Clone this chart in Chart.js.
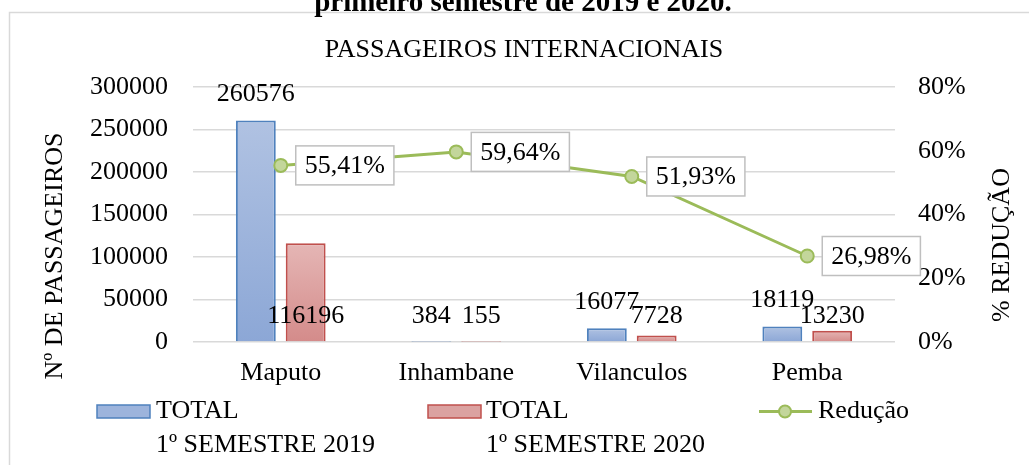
<!DOCTYPE html>
<html lang="pt">
<head>
<meta charset="utf-8">
<title>Passageiros internacionais</title>
<script src="https://cdn.jsdelivr.net/npm/chart.js@4.4.1/dist/chart.umd.min.js"></script>
<style>
  html, body { margin: 0; padding: 0; background: #fff; }
  #wrap { width: 1029px; height: 465px; }
</style>
</head>
<body>
<div id="wrap"><canvas id="chart" width="1029" height="465"></canvas></div>
<script>
/* ===== dados ===== */
const categorias = ['Maputo', 'Inhambane', 'Vilanculos', 'Pemba'];
const total2019  = [260576, 384, 16077, 18119];
const total2020  = [116196, 155, 7728, 13230];
const reducao    = [0.5541, 0.5964, 0.5193, 0.2698];

const serie2019 = ['TOTAL', '1º SEMESTRE 2019'];
const serie2020 = ['TOTAL', '1º SEMESTRE 2020'];
const serieRed  = 'Redução';

const tituloTopo = 'primeiro semestre de 2019 e 2020.';
const titulo     = 'PASSAGEIROS INTERNACIONAIS';
const tituloY    = 'Nº DE PASSAGEIROS';
const tituloY1   = '% REDUÇÃO';

/* ===== estilos ===== */
const FONT = "'Liberation Serif', 'Times New Roman', serif";
const FS = 26;
const AZUL = { top: '#b0c2e2', bottom: '#8ca7d6', border: '#4f81bd', key: '#9db4dc' };
const VERM = { top: '#e5b6b5', bottom: '#d48b8a', border: '#c0504d', key: '#dba2a1' };
const VERDE = { line: '#9bbb59', fill: '#c3d69b' };

Chart.defaults.color = '#000';
Chart.defaults.font.family = FONT;
Chart.defaults.font.size = FS;

const pct = v => (v * 100).toFixed(2).replace('.', ',') + '%';

function gradFor(cores) {
  return (ctx) => {
    const chart = ctx.chart;
    const y = chart.scales.y;
    if (!chart.chartArea || !y || ctx.type !== 'data') return cores.bottom;
    const v = ctx.parsed ? ctx.parsed.y : 0;
    const top = y.getPixelForValue(v);
    const base = y.getPixelForValue(0);
    if (Math.abs(base - top) < 1) return cores.bottom;
    const g = chart.ctx.createLinearGradient(0, top, 0, base);
    g.addColorStop(0, cores.top);
    g.addColorStop(1, cores.bottom);
    return g;
  };
}

/* ===== plugin de decoração (borda, títulos, rótulos, legenda) ===== */
const decor = {
  id: 'decor',
  beforeDraw(chart) {
    const c = chart.ctx;
    c.save();
    c.fillStyle = '#fff';
    c.fillRect(0, 0, chart.width, chart.height);
    c.strokeStyle = '#d9d9d9';
    c.lineWidth = 1.5;
    c.strokeRect(9.5, 12.5, chart.width + 20, chart.height + 20);
    c.restore();
  },
  afterDatasetsDraw(chart) {
    const c = chart.ctx;
    const y = chart.scales.y;
    c.save();
    c.font = `${FS}px ${FONT}`;
    c.fillStyle = '#000';
    c.textAlign = 'center';
    c.textBaseline = 'middle';

    // rótulos das barras (2020 ficam junto à base)
    chart.getDatasetMeta(1).data.forEach((bar, i) => {
      c.fillText(String(total2019[i]), bar.x, y.getPixelForValue(total2019[i]) - 26);
    });
    chart.getDatasetMeta(2).data.forEach((bar, i) => {
      c.fillText(String(total2020[i]), bar.x, y.getPixelForValue(0) - 26);
    });

    // rótulos da linha (caixas)
    c.textAlign = 'left';
    chart.getDatasetMeta(0).data.forEach((pt, i) => {
      const txt = pct(reducao[i]);
      const w = c.measureText(txt).width + 18;
      const h = 39;
      const x0 = pt.x + 15, y0 = pt.y - h / 2;
      c.fillStyle = '#fff';
      c.fillRect(x0, y0, w, h);
      c.strokeStyle = '#bfbfbf';
      c.lineWidth = 1.5;
      c.strokeRect(x0, y0, w, h);
      c.fillStyle = '#000';
      c.fillText(txt, x0 + 9, pt.y + 1);
    });
    c.restore();
  },
  afterDraw(chart) {
    const c = chart.ctx;
    c.save();
    c.fillStyle = '#000';
    c.textBaseline = 'alphabetic';
    c.textAlign = 'center';

    // título do documento (cortado em cima)
    c.font = `bold 29px ${FONT}`;
    c.fillText(tituloTopo, 523, 11);

    // título do gráfico
    c.font = `${FS}px ${FONT}`;
    c.textBaseline = 'middle';
    c.fillText(titulo, 524, 50);

    // títulos dos eixos
    c.save();
    c.translate(55, 256);
    c.rotate(-Math.PI / 2);
    c.fillText(tituloY, 0, 0);
    c.restore();
    c.save();
    c.translate(1002, 245);
    c.rotate(-Math.PI / 2);
    c.fillText(tituloY1, 0, 0);
    c.restore();

    // legenda
    c.textAlign = 'left';
    const ly = 411.5, ly2 = 445;
    const chave = (x, cores) => {
      c.fillStyle = cores.key;
      c.fillRect(x, ly - 6.5, 53, 13);
      c.strokeStyle = cores.border;
      c.lineWidth = 1.5;
      c.strokeRect(x, ly - 6.5, 53, 13);
    };
    chave(97, AZUL);
    c.fillStyle = '#000';
    c.fillText(serie2019[0], 156, ly);
    c.fillText(serie2019[1], 156, ly2);
    chave(428, VERM);
    c.fillStyle = '#000';
    c.fillText(serie2020[0], 486, ly);
    c.fillText(serie2020[1], 486, ly2);

    c.strokeStyle = VERDE.line;
    c.lineWidth = 3;
    c.beginPath();
    c.moveTo(759, ly); c.lineTo(812, ly);
    c.stroke();
    c.beginPath();
    c.arc(785, ly, 6, 0, Math.PI * 2);
    c.fillStyle = VERDE.fill;
    c.fill();
    c.lineWidth = 2;
    c.stroke();
    c.fillStyle = '#000';
    c.fillText(serieRed, 818, ly);
    c.restore();
  }
};

/* ===== gráfico ===== */
new Chart(document.getElementById('chart'), {
  data: {
    labels: categorias,
    datasets: [
      {
        type: 'line',
        label: serieRed,
        data: reducao,
        yAxisID: 'y1',
        order: 0,
        borderColor: VERDE.line,
        borderWidth: 3,
        pointRadius: 6.5,
        pointBackgroundColor: VERDE.fill,
        pointBorderColor: VERDE.line,
        pointBorderWidth: 2,
        tension: 0
      },
      {
        type: 'bar',
        label: serie2019.join(' '),
        data: total2019,
        yAxisID: 'y',
        order: 1,
        backgroundColor: gradFor(AZUL),
        borderColor: AZUL.border,
        borderWidth: 2,
        categoryPercentage: 0.568,
        barPercentage: 0.8
      },
      {
        type: 'bar',
        label: serie2020.join(' '),
        data: total2020,
        yAxisID: 'y',
        order: 2,
        backgroundColor: gradFor(VERM),
        borderColor: VERM.border,
        borderWidth: 2,
        categoryPercentage: 0.568,
        barPercentage: 0.8
      }
    ]
  },
  options: {
    responsive: false,
    animation: false,
    devicePixelRatio: 1,
    layout: { padding: { top: 87, left: 0, right: 0, bottom: 0 } },
    plugins: {
      legend: { display: false },
      title: { display: false },
      tooltip: { enabled: false }
    },
    scales: {
      x: {
        grid: { display: false, drawTicks: false },
        border: { display: false },
        ticks: { padding: 16 },
        afterFit(s) { s.height = 123; }
      },
      y: {
        position: 'left',
        min: 0, max: 300000,
        ticks: { stepSize: 50000, padding: 25, callback: v => String(v) },
        grid: { color: '#d9d9d9', lineWidth: 1.5, drawTicks: false },
        border: { display: false },
        afterFit(s) { s.width = 193; }
      },
      y1: {
        position: 'right',
        min: 0, max: 0.8,
        ticks: { stepSize: 0.2, padding: 23, callback: v => Math.round(v * 100) + '%' },
        grid: { display: false, drawTicks: false },
        border: { display: false },
        afterFit(s) { s.width = 134; }
      }
    }
  },
  plugins: [decor]
});
</script>
</body>
</html>
